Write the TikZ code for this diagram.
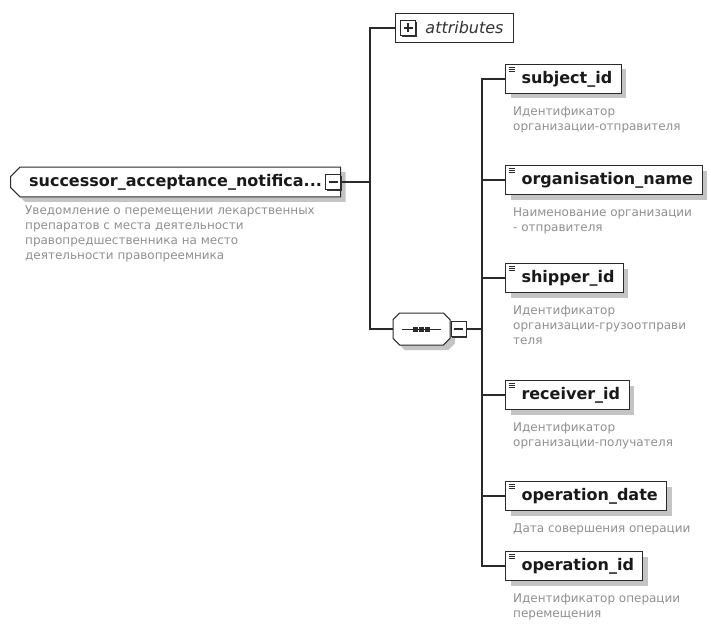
\documentclass[tikz,border=0pt]{standalone}
\usepackage{fontspec}
\setmainfont{DejaVu Sans}
\usepackage{xcolor}
\definecolor{xsdline}{HTML}{2a2a2a}
\definecolor{xsddesc}{HTML}{8f8f8f}
\definecolor{xsdshadow}{HTML}{c4c4c4}
\usetikzlibrary{shapes.misc, shadows, positioning}

\begin{document}
\begin{tikzpicture}[x=1pt, y=-1pt,
  conn/.style={draw=xsdline, line width=1.1pt},
  element/.style={rectangle, draw=xsdline, line width=1pt, fill=white,
    minimum height=29pt, inner xsep=9pt, text=black!90,
    font=\fontsize{16}{18}\selectfont\bfseries,
    execute at begin node=\hspace*{7pt},
    drop shadow={shadow xshift=5pt, shadow yshift=-5pt, fill=xsdshadow, opacity=1},
    path picture={\foreach \k in {0,1,2}
      \draw[line width=0.6pt] ([xshift=3pt, yshift={-3pt-1.8pt*\k}]path picture bounding box.north west) -- ++(6pt,0);}},
  desc/.style={inner sep=0pt, align=left, text=xsddesc,
    font=\fontsize{12}{15}\selectfont},
  expander/.style={rectangle, draw=xsdline, line width=1pt, fill=white,
    minimum size=15pt, inner sep=0pt,
    drop shadow={shadow xshift=1.2pt, shadow yshift=-1.2pt, fill=black!80, opacity=1}},
  minus/.style={path picture={\draw[line width=1.2pt]
      ([xshift=3pt]path picture bounding box.west) -- ([xshift=-3pt]path picture bounding box.east);}},
  plus/.style={path picture={\draw[line width=1.2pt]
      ([xshift=3pt]path picture bounding box.west) -- ([xshift=-3pt]path picture bounding box.east)
      ([yshift=-3pt]path picture bounding box.north) -- ([yshift=3pt]path picture bounding box.south);}}
]
\useasboundingbox (0,0) rectangle (711,639);

% Root element
\node[chamfered rectangle, chamfered rectangle corners={north west, south west},
  chamfered rectangle xsep=6pt, draw=xsdline, line width=1pt, fill=white,
  minimum width=330pt, minimum height=29pt, text=black!90,
  font=\fontsize{16}{18}\selectfont\bfseries,
  drop shadow={shadow xshift=5pt, shadow yshift=-5pt, fill=xsdshadow, opacity=1},
  anchor=west] (rootc) at (10,182) {successor\_acceptance\_notifica...};
\node[expander, minus] (rootx) at ([xshift=-8pt]rootc.east) {};
\node[desc, below=13pt of rootc.south west, anchor=north west, xshift=10pt] (rootd)
  {Уведомление о перемещении лекарственных\\препаратов с места деятельности\\правопредшественника на место\\деятельности правопреемника};

% Attributes
\node[rectangle, draw=xsdline, line width=1pt, fill=white, minimum width=118pt,
  minimum height=29pt, anchor=west, text=black!80,
  font=\fontsize{16}{18}\selectfont\itshape, inner xsep=5pt,
  execute at begin node=\hspace*{20pt}] (attr) at (395,28) {attributes};
\node[expander, plus] (attrx) at ([xshift=13pt]attr.west) {};

% Sequence compositor
\node[chamfered rectangle, chamfered rectangle xsep=6pt, draw=xsdline, line width=1pt,
  fill=white, minimum width=57pt, minimum height=32pt,
  drop shadow={shadow xshift=5pt, shadow yshift=-5pt, fill=xsdshadow, opacity=1},
  path picture={
    \draw[xsdline, line width=1pt] ([xshift=9pt]path picture bounding box.west) -- ([xshift=-9pt]path picture bounding box.east);
    \fill[xsdline] ([xshift=-8.5pt, yshift=-2.5pt]path picture bounding box.center) rectangle ([xshift=-3.5pt, yshift=2.5pt]path picture bounding box.center);
    \fill[xsdline] ([xshift=-2.5pt, yshift=-2.5pt]path picture bounding box.center) rectangle ([xshift=2.5pt, yshift=2.5pt]path picture bounding box.center);
    \fill[xsdline] ([xshift=3.5pt, yshift=-2.5pt]path picture bounding box.center) rectangle ([xshift=8.5pt, yshift=2.5pt]path picture bounding box.center);}
  ] (seq) at (421.5,329) {};
\node[expander, minus, right=0pt of seq] (seqx) {};

% Children
\node[element, anchor=west] (sj) at (505,79)  {subject\_id};
\node[element, anchor=west] (on) at (505,180) {organisation\_name};
\node[element, anchor=west] (si) at (505,278) {shipper\_id};
\node[element, anchor=west] (ri) at (505,395) {receiver\_id};
\node[element, anchor=west] (od) at (505,496) {operation\_date};
\node[element, anchor=west] (oi) at (505,566) {operation\_id};

\node[desc, below=13pt of sj.south west, anchor=north west, xshift=8pt] (sjd)
  {Идентификатор\\организации-отправителя};
\node[desc, below=13pt of on.south west, anchor=north west, xshift=8pt] (ond)
  {Наименование организации\\- отправителя};
\node[desc, below=13pt of si.south west, anchor=north west, xshift=8pt] (sid)
  {Идентификатор\\организации-грузоотправи\\теля};
\node[desc, below=13pt of ri.south west, anchor=north west, xshift=8pt] (rid)
  {Идентификатор\\организации-получателя};
\node[desc, below=13pt of od.south west, anchor=north west, xshift=8pt] (odd)
  {Дата совершения операции};
\node[desc, below=13pt of oi.south west, anchor=north west, xshift=8pt] (oid)
  {Идентификатор операции\\перемещения};

% Connectors
\coordinate (jl) at (370,182);
\coordinate (jr) at (482,329);
\draw[conn] (rootx.east) -- (jl);
\draw[conn] (attr.west) -| (jl) |- (seq.west);
\draw[conn] (seqx.east) -- (jr);
\foreach \n in {sj,on,si,ri,od,oi}
  \draw[conn] (\n.west) -| (jr);
\end{tikzpicture}
\end{document}
